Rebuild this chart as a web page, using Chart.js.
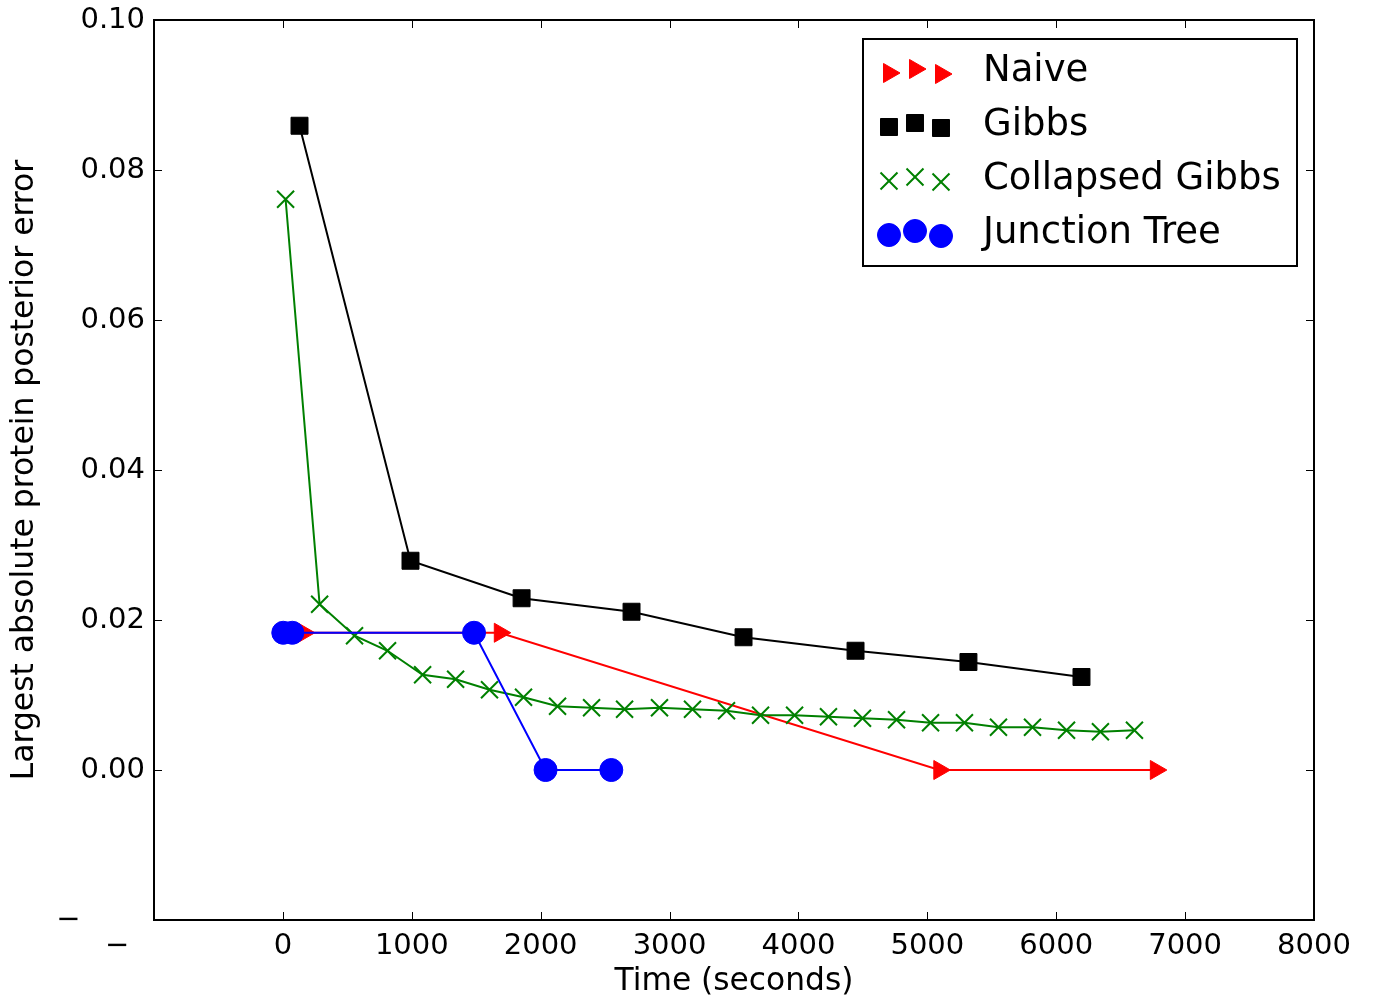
<!DOCTYPE html>
<html>
<head>
<meta charset="utf-8">
<script src="https://cdn.jsdelivr.net/npm/chart.js@4.4.1/dist/chart.umd.min.js"></script>
<style>
  body { margin: 0; background: #fff; }
  #wrap { width: 1373px; height: 998px; }
</style>
</head>
<body>
<div id="wrap"><canvas id="myChart" width="1373" height="998"></canvas></div>
<script>
// data
const naiveX = [13, 163, 1683, 5093, 6773];
const naiveY = [0.0183, 0.0183, 0.0183, 0.0, 0.0];

const gibbsX = [129, 990, 1852, 2705, 3574, 4443, 5319, 6196];
const gibbsY = [0.0859, 0.0279, 0.0229, 0.0211, 0.0177, 0.0159, 0.0144, 0.0124];

const collapsedX = [21, 285, 556, 812, 1084, 1340, 1603, 1867, 2131, 2395, 2651, 2922, 3178,
  3442, 3706, 3970, 4233, 4497, 4761, 5025, 5288, 5552, 5816, 6080, 6343, 6607];
const collapsedY = [0.0761, 0.0221, 0.0179, 0.0159, 0.0127, 0.0121, 0.0107, 0.0097, 0.0085,
  0.0083, 0.0081, 0.0083, 0.0081, 0.0079, 0.0073, 0.0073, 0.0071, 0.0069, 0.0067, 0.0063,
  0.0063, 0.0057, 0.0057, 0.0053, 0.0051, 0.0053];

const junctionX = [3, 73, 1483, 2038, 2548];
const junctionY = [0.0183, 0.0183, 0.0183, 0.0, 0.0];

const seriesNames = ["Naive", "Gibbs", "Collapsed Gibbs", "Junction Tree"];
const xTickStep = 1000;
const yTickStep = 0.02;

const FONT = "'DejaVu Sans', 'Liberation Sans', sans-serif";

function pts(xs, ys) {
  return xs.map((x, i) => ({ x: x, y: ys[i] }));
}

// marker look per series (used by datasets and by the legend)
const markers = [
  { color: "#ff0000", pointStyle: "triangle", rotation: 90, radius: 11, borderWidth: 1 },
  { color: "#000000", pointStyle: "rect", rotation: 0, radius: 12, borderWidth: 1 },
  { color: "#008000", pointStyle: "crossRot", rotation: 0, radius: 12, borderWidth: 2 },
  { color: "#0000ff", pointStyle: "circle", rotation: 0, radius: 11.5, borderWidth: 1 },
];

function makeDataset(i, data, order) {
  const m = markers[i];
  return {
    label: seriesNames[i],
    data: data,
    borderColor: m.color,
    backgroundColor: m.color,
    borderWidth: 2,
    tension: 0,
    pointStyle: m.pointStyle,
    pointRotation: m.rotation,
    pointRadius: m.radius,
    pointHoverRadius: m.radius,
    pointBorderWidth: m.borderWidth,
    pointBackgroundColor: m.color,
    pointBorderColor: m.color,
    order: order,
  };
}

// inward ticks on all four sides + frame
const frameTicks = {
  id: "frameTicks",
  afterDraw(chart) {
    const { ctx, chartArea: a } = chart;
    const xs = chart.scales.x;
    const ys = chart.scales.y;
    const len = 8;
    ctx.save();
    ctx.strokeStyle = "#000";
    ctx.lineWidth = 1;
    ctx.beginPath();
    xs.ticks.forEach((t) => {
      const px = Math.round(xs.getPixelForValue(t.value)) + 0.5;
      ctx.moveTo(px, a.bottom);
      ctx.lineTo(px, a.bottom - len);
      ctx.moveTo(px, a.top);
      ctx.lineTo(px, a.top + len);
    });
    ys.ticks.forEach((t) => {
      const py = Math.round(ys.getPixelForValue(t.value)) + 0.5;
      ctx.moveTo(a.left, py);
      ctx.lineTo(a.left + len, py);
      ctx.moveTo(a.right, py);
      ctx.lineTo(a.right - len, py);
    });
    ctx.stroke();
    ctx.lineWidth = 2;
    ctx.strokeRect(a.left, a.top, a.right - a.left, a.bottom - a.top);
    ctx.restore();
  },
};

// matplotlib style legend: three scatter markers per entry
const scatterLegend = {
  id: "scatterLegend",
  afterDraw(chart) {
    const { ctx } = chart;
    const box = { x: 863, y: 39, w: 434, h: 227 };
    const markerX = [889, 915, 941];
    const markerDy = [2, -2, 3];
    ctx.save();
    ctx.fillStyle = "#fff";
    ctx.fillRect(box.x, box.y, box.w, box.h);
    ctx.strokeStyle = "#000";
    ctx.lineWidth = 2;
    ctx.strokeRect(box.x, box.y, box.w, box.h);
    seriesNames.forEach((name, i) => {
      const cy = 71 + i * 54;
      const m = markers[i];
      markerX.forEach((mx, k) => {
        ctx.fillStyle = m.color;
        ctx.strokeStyle = m.color;
        ctx.lineWidth = m.borderWidth;
        Chart.helpers.drawPoint(ctx, {
          pointStyle: m.pointStyle,
          rotation: m.rotation,
          radius: m.radius,
          borderWidth: m.borderWidth,
        }, mx, cy + markerDy[k]);
      });
      ctx.fillStyle = "#000";
      ctx.font = "37px " + FONT;
      ctx.textBaseline = "middle";
      ctx.textAlign = "left";
      ctx.fillText(name, 983, cy);
    });
    ctx.restore();
  },
};

function initChart() {
  const options = {
    responsive: false,
    animation: false,
    layout: { padding: { top: 20, right: 59, left: 0, bottom: 0 } },
    plugins: {
      legend: { display: false },
      title: { display: false },
      tooltip: { enabled: false },
    },
    scales: {
      x: {
        type: "linear",
        min: -1000,
        max: 8000,
        grid: { display: false, drawTicks: false },
        border: { display: false },
        ticks: {
          stepSize: xTickStep,
          padding: 9,
          maxRotation: 0,
          color: "#000",
          font: { family: FONT, size: 29 },
          callback: (v) => (v < 0 ? "\u2212\u2007\u2007\u2007\u2007" : String(v)),
        },
        title: {
          display: true,
          text: "Time (seconds)",
          color: "#000",
          font: { family: FONT, size: 31.3 },
          padding: { top: 0, bottom: -3 },
        },
        afterFit: (scale) => {
          scale.height = 78;
          scale.paddingLeft = 0;
          scale.paddingRight = 0;
        },
      },
      y: {
        min: -0.02,
        max: 0.1,
        grid: { display: false, drawTicks: false },
        border: { display: false },
        ticks: {
          stepSize: yTickStep,
          padding: 9,
          color: "#000",
          font: { family: FONT, size: 29 },
          callback: (v) => (v < 0 ? "\u2212\u2007\u2008\u2007\u2007" : v.toFixed(2)),
        },
        title: {
          display: true,
          text: "Largest absolute protein posterior error",
          color: "#000",
          font: { family: FONT, size: 31.4 },
          padding: { top: 6, bottom: 0 },
        },
        afterFit: (scale) => {
          scale.width = 154;
          scale.paddingTop = 0;
          scale.paddingBottom = 0;
        },
      },
    },
  };

  const config = {
    type: "line",
    data: {
      datasets: [
        makeDataset(0, pts(naiveX, naiveY), 4),
        makeDataset(1, pts(gibbsX, gibbsY), 3),
        makeDataset(2, pts(collapsedX, collapsedY), 2),
        makeDataset(3, pts(junctionX, junctionY), 1),
      ],
    },
    options: options,
    plugins: [frameTicks, scatterLegend],
  };

  const ctx = document.getElementById("myChart").getContext("2d");
  return new Chart(ctx, config);
}

initChart();
</script>
</body>
</html>
